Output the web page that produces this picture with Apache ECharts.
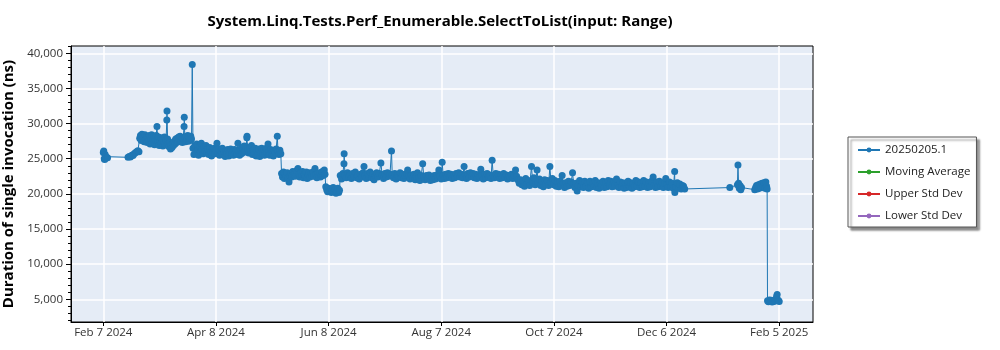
<!DOCTYPE html>
<html>
<head>
<meta charset="utf-8">
<script src="https://cdn.jsdelivr.net/npm/echarts@6/dist/echarts.min.js"></script>
<style>
  html, body { margin: 0; padding: 0; background: #ffffff; }
  #chart { width: 1000px; height: 350px; }
</style>
</head>
<body>
<div id="chart"></div>
<script>
// Benchmark runs: [days since Feb 7 2024, duration of a single invocation in ns]
const febRuns = [
  [0, 25900], [0.25, 26100], [0.5, 25000], [0.75, 24900], [1, 25600], [1.25, 25300], [1.5, 25100], [2.3, 25150],
  [13.3, 25200], [14, 25300], [14.6, 25250], [15.3, 25500], [16, 25450], [16.6, 25700], [17.3, 25850], [17.9, 26000], [18.6, 26150], [19.2, 26000]
];
const marchRuns = [
  [19.6, 27900], [20, 28300], [20.4, 27600], [20.8, 28500], [21.2, 27800], [21.6, 28200], [22, 27400], [22.4, 28400],
  [22.8, 27700], [23.2, 28100], [23.6, 27300], [24, 28000], [24.4, 27500], [24.8, 28300], [25.2, 27100], [25.6, 27900],
  [26, 28400], [26.4, 27200], [26.8, 27800], [27.2, 28200], [27.6, 27000], [28, 27700], [28.5, 28300], [28.9, 29600],
  [29.3, 27600], [29.7, 28100], [30.1, 26900], [30.5, 27500], [30.9, 28000], [31.3, 27200], [31.7, 27800], [32.1, 26800],
  [32.5, 27400], [32.9, 28100], [33.3, 27000], [33.8, 27600], [34.2, 30500], [34.3, 31800], [34.6, 27800], [35, 27100],
  [35.4, 26700], [35.8, 27300], [36.2, 26400], [36.6, 27000], [37, 26600], [37.4, 27200], [37.8, 26900], [38.2, 27500],
  [38.6, 27100], [39, 27800], [39.4, 27300], [39.8, 27900], [40.2, 27400], [40.6, 28100], [41, 27600], [41.4, 28200],
  [41.8, 27500], [42.2, 28000], [42.6, 27300], [43, 27900], [43.5, 29600], [43.6, 30900], [43.9, 28000], [44.3, 27400],
  [44.7, 28200], [45.1, 27700], [45.5, 28300], [45.9, 27500], [46.3, 28100], [46.7, 27600], [47.1, 28200], [47.5, 27800],
  [47.9, 38400]
];
const aprilRuns = [
  [48.3, 26500], [48.8, 25600], [49.3, 26900], [49.8, 25800], [50.3, 27100], [50.8, 26200], [51.3, 25500], [51.8, 26800],
  [52.3, 26000], [52.8, 27200], [53.3, 26300], [53.8, 25700], [54.3, 26700], [54.8, 26100], [55.3, 26900], [55.8, 25800],
  [56.3, 26400], [56.8, 25600], [57.3, 26600], [57.8, 26000], [58.3, 25400], [58.8, 26300], [59.3, 25900], [59.8, 26500],
  [60.3, 25700], [60.8, 26200], [61.2, 27200], [61.6, 25800], [62.1, 26400], [62.6, 25500], [63.1, 26100], [63.6, 25800],
  [64.1, 26500], [64.6, 25600], [65.1, 26000], [65.6, 25300], [66.1, 26200], [66.6, 25700], [67.1, 26300], [67.6, 25400],
  [68.1, 25900], [68.6, 26400], [69.1, 25600], [69.6, 26100], [70.1, 25500], [70.6, 26300], [71.1, 25800], [71.6, 26200],
  [72.1, 25600], [72.5, 27200], [72.9, 26000], [73.4, 25500], [73.9, 26300], [74.4, 25700], [74.9, 26600], [75.4, 25900],
  [75.9, 26800], [76.4, 26100], [76.9, 26700], [77.3, 28000], [77.4, 28200], [77.8, 26400], [78.3, 25800], [78.8, 26600],
  [79.3, 26000], [79.8, 26900], [80.3, 25600], [80.8, 26300], [81.3, 25700], [81.8, 26500], [82.3, 25400], [82.8, 26100],
  [83.3, 25600], [83.8, 26400], [84.3, 25300], [84.8, 25900], [85.3, 26500], [85.8, 25700], [86.3, 26200], [86.8, 25500],
  [87.3, 26000], [87.8, 26500], [88.3, 25800], [88.7, 27100], [89.1, 26000], [89.6, 25500], [90.1, 26300], [90.6, 25700],
  [91.1, 26100], [91.6, 25400], [92.1, 26200], [92.6, 25800], [93.1, 26400], [93.7, 28200], [94.1, 26000], [94.6, 25600],
  [95.1, 26200], [95.6, 25700]
];
const mayRuns = [
  [96, 22900], [96.5, 22400], [97, 23100], [97.5, 22200], [98, 22800], [98.5, 22500], [99, 23000], [99.5, 22300],
  [100, 21700], [100.5, 22600], [101, 22900], [101.5, 22400], [102, 23200], [102.5, 22700], [103, 23000], [103.5, 22500],
  [104, 23300], [104.8, 23600], [105.3, 22800], [105.8, 22400], [106.3, 23000], [106.8, 22600], [107.3, 23200], [107.8, 22300],
  [108.3, 22800], [108.8, 22500], [109.3, 23100], [109.8, 22200], [110.3, 22700], [110.8, 23000], [111.3, 22400], [111.8, 22900],
  [112.3, 22600], [112.8, 23100], [113.3, 22500], [114, 23600], [114.5, 22800], [115, 22300], [115.5, 22900], [116, 22500],
  [116.5, 23000], [117, 22400], [117.5, 22700], [118, 23200], [118.5, 22600], [119, 23400], [119.4, 22800]
];
const juneRuns = [
  [119.8, 21000], [120.3, 20600], [120.8, 20300], [121.3, 20800], [121.8, 20400], [122.3, 20700], [122.8, 20200], [123.3, 20500],
  [123.8, 20900], [124.3, 20300], [124.8, 20600], [125.3, 20100], [125.8, 20400], [126.3, 20800], [126.8, 20200], [127.2, 20500]
];
const summerRuns = [
  [127.6, 22600], [128.3, 22100], [129, 22900], [129.6, 24300], [129.7, 25700], [130.1, 22700], [130.8, 22300], [131.5, 23000],
  [132.2, 22400], [132.9, 22800], [133.6, 22200], [134.3, 22900], [135, 22500], [135.7, 23100], [136.4, 22300], [137.1, 22700],
  [137.8, 22100], [138.5, 22800], [139.2, 22400], [139.9, 23000], [140.4, 23900], [140.9, 22600], [141.6, 22200], [142.3, 22900],
  [143, 22500], [143.7, 23100], [144.4, 22300], [145.1, 22800], [145.8, 22000], [146.5, 22600], [147.2, 23000], [147.9, 22400],
  [148.6, 22900], [149.5, 24400], [150.2, 22600], [150.9, 22200], [151.6, 22900], [152.3, 22400], [153, 23000], [153.7, 22500],
  [154.4, 22800], [155.2, 26100], [155.6, 22700], [156.3, 22300], [157, 22900], [157.7, 22100], [158.4, 22700], [159.1, 22400],
  [159.8, 23000], [160.5, 22300], [161.2, 22800], [161.9, 22200], [162.6, 22600], [163.3, 22900], [163.9, 23400], [164.5, 22500],
  [165.2, 22100], [165.9, 22700], [166.6, 22300], [167.3, 22800], [168, 22000], [168.6, 22500], [169.2, 23000], [169.8, 22300],
  [170.5, 21900], [171.2, 22600], [172, 24300], [172.6, 22400], [173.3, 22000], [174, 22600], [174.7, 22200], [175.4, 22700],
  [176.1, 21900], [176.8, 22400], [177.5, 22000], [178.2, 22600], [178.9, 22100], [179.6, 22700], [180.2, 22300], [180.7, 23400],
  [181.3, 22500], [182, 22100], [182.5, 24500], [183, 22700], [183.7, 22200], [184.4, 22800], [185.1, 22300], [185.8, 22900],
  [186.5, 22400], [187.2, 22800], [187.9, 22200], [188.6, 22700], [189.3, 22300], [190, 22900], [190.7, 22500], [191.4, 23000],
  [192.1, 22400], [192.8, 22800], [193.5, 22300], [194.3, 23900], [194.9, 22700], [195.6, 22200], [196.3, 22900], [197, 22400],
  [197.7, 23000], [198.4, 22500], [199.1, 22900], [199.8, 22300], [200.5, 22800], [201.2, 22200], [201.9, 22700], [202.6, 22400],
  [203.3, 23500], [203.9, 22600], [204.6, 22100], [205.3, 22800], [206, 22300], [206.7, 22900], [207.4, 22400], [208.1, 22700],
  [208.8, 22200], [209.4, 24800], [210, 22600], [210.7, 22300], [211.4, 22900], [212.1, 22400], [212.8, 22800], [213.5, 22200],
  [214.2, 22700], [214.9, 22300], [215.6, 22900], [216.3, 22400], [217, 22700], [217.7, 22100], [218.4, 22600], [219.1, 22300],
  [219.8, 22800], [220.5, 22200], [221.2, 22600], [222, 23400], [222.6, 22500], [223.2, 22000]
];
const autumnRuns = [
  [224, 21500], [224.7, 22000], [225.4, 21300], [226.1, 21800], [226.8, 21100], [227.5, 22200], [228.2, 21400], [228.9, 21900],
  [229.6, 21200], [230.6, 23900], [231.2, 21700], [231.9, 22300], [232.6, 21300], [233.6, 23400], [234.2, 21600], [234.9, 22100],
  [235.6, 21200], [236.3, 21800], [237, 21000], [237.7, 22000], [238.4, 21400], [239.1, 21900], [239.8, 21200], [240.5, 23900],
  [241.1, 21600], [241.8, 22200], [242.5, 21300], [243.2, 21900], [243.9, 21100], [244.6, 21700], [245.3, 21000], [246, 21800],
  [246.6, 21300], [247.1, 22600], [247.7, 21500], [248.4, 20900], [249.1, 21600], [249.8, 21100], [250.5, 21800], [251.2, 21200],
  [252, 21700], [252.7, 23000], [253.3, 21400], [254, 20900], [254.6, 21500], [255.2, 20400], [255.8, 21200], [256.5, 21900],
  [257.2, 21000], [257.9, 21700], [258.6, 20900], [259.3, 21800], [260, 21100], [260.7, 21600], [261.4, 20800], [262.1, 21800],
  [262.8, 21000], [263.5, 21500], [264.2, 21100], [264.9, 21900], [265.6, 20900], [266.3, 21600], [267, 20800], [267.7, 21500],
  [268.4, 21100], [269.1, 21800], [269.8, 20900], [270.5, 21600], [271.2, 21000], [271.9, 21900], [272.6, 21200], [273.3, 21800],
  [274, 21000], [274.7, 21700], [275.4, 21100], [276.1, 21800], [276.4, 22100], [277, 21200], [277.7, 20900], [278.4, 21700],
  [279.1, 21000], [279.8, 21600], [280.5, 20800], [281.2, 21500], [281.9, 20900], [282.6, 21800], [283.3, 21000], [284, 21600],
  [284.7, 20800], [285.4, 21500], [286.1, 21000], [286.8, 21900], [287.5, 21100], [288.2, 21700], [288.9, 20900], [289.6, 21600],
  [290.3, 21000], [291, 21900], [291.7, 21100], [292.4, 21700], [293.1, 20900], [293.8, 21600], [294.5, 21000], [295.2, 21800],
  [296.1, 22400], [296.7, 21200], [297.4, 20900], [298.1, 21700], [298.8, 21000], [299.5, 21800], [300.2, 21100], [300.9, 21600],
  [301.6, 20900], [302.3, 21500], [302.9, 22200], [303.5, 21300], [304.2, 20900], [304.9, 21700], [305.6, 21000], [306.3, 21500],
  [307, 20800], [307.7, 23200], [307.8, 20200], [308.4, 21000], [309.1, 21600], [309.8, 20800], [310.5, 21400], [311.2, 20700],
  [311.9, 21200], [312.5, 21100], [313.1, 20700]
];
const winterRuns = [
  [337.4, 20900], [341.5, 21300], [341.8, 24100], [342.1, 21500], [342.5, 20800], [342.9, 21200], [343.3, 20600], [343.7, 20900],
  [350.8, 20600], [351.3, 20900], [351.8, 21200], [352.3, 20700], [352.8, 21300], [353.3, 20800], [353.8, 21400], [354.3, 20900],
  [354.8, 21500], [355.3, 21000], [355.8, 21600], [356.3, 20800], [356.8, 21700], [357.2, 21100], [357.5, 20700],
  [357.7, 4800], [358.2, 4650], [358.7, 4900], [359.2, 4700], [359.7, 4850], [360.2, 4600], [360.7, 4800], [361.2, 4700],
  [361.7, 4900], [362.2, 5000], [362.6, 5400], [362.9, 5700], [363.3, 4900], [363.7, 4800], [364, 4700]
];

// X axis tick labels, evenly spread from Feb 7 2024 to Feb 5 2025 (364 days)
const xTickLabels = ['Feb 7 2024', 'Apr 8 2024', 'Jun 8 2024', 'Aug 7 2024', 'Oct 7 2024', 'Dec 6 2024', 'Feb 5 2025'];
const xTickSpanDays = 364;
// Y axis major ticks (labelled) and minor ticks
const yMajorTicks = [5000, 10000, 15000, 20000, 25000, 30000, 35000, 40000];
const yMinorTicks = [2000, 3000, 4000, 6000, 7000, 8000, 9000, 11000, 12000, 13000, 14000, 16000, 17000, 18000, 19000,
  21000, 22000, 23000, 24000, 26000, 27000, 28000, 29000, 31000, 32000, 33000, 34000, 36000, 37000, 38000, 39000, 41000];

const seriesNames = ['20250205.1', 'Moving Average', 'Upper Std Dev', 'Lower Std Dev'];
const seriesColors = ['#1f77b4', '#2ca02c', '#d62728', '#9467bd'];

const runs = [].concat(febRuns, marchRuns, aprilRuns, mayRuns, juneRuns, summerRuns, autumnRuns, winterRuns);
const xTickDays = xTickLabels.map((_, i) => i * xTickSpanDays / (xTickLabels.length - 1));

const FONT = '"Segoe UI", "Open Sans", "Noto Sans", sans-serif';

const chart = echarts.init(document.getElementById('chart'), null, { renderer: 'canvas' });

const lineSeries = seriesNames.map((name, i) => ({
  name: name,
  type: 'line',
  xAxisIndex: 0,
  yAxisIndex: 0,
  data: i === 0 ? runs : [],
  color: seriesColors[i],
  symbol: 'circle',
  symbolSize: 7,
  showAllSymbol: true,
  sampling: null,
  lineStyle: { width: 1, color: seriesColors[i] },
  itemStyle: { color: seriesColors[i] },
  emphasis: { disabled: true },
  z: 3
}));

chart.setOption({
  animation: false,
  backgroundColor: '#ffffff',
  title: {
    text: 'System.Linq.Tests.Perf_Enumerable.SelectToList(input: Range)',
    left: 435,
    textAlign: 'center',
    top: 9,
    textStyle: { fontFamily: FONT, fontSize: 15, fontWeight: 'bold', color: '#000000' }
  },
  legend: {
    orient: 'vertical',
    left: 848,
    top: 137,
    data: seriesNames,
    itemWidth: 22,
    itemHeight: 6,
    itemGap: 10,
    padding: [7, 6, 5, 9],
    backgroundColor: '#ffffff',
    borderColor: '#555555',
    borderWidth: 1,
    shadowBlur: 2,
    shadowColor: 'rgba(0,0,0,0.45)',
    shadowOffsetX: 3,
    shadowOffsetY: 3,
    textStyle: { fontFamily: FONT, fontSize: 11.5, color: '#222222', lineHeight: 12 },
    selectedMode: false
  },
  grid: {
    left: 71,
    right: 187,
    top: 46,
    bottom: 28,
    outerBoundsMode: 'none',
    containLabel: false,
    show: true,
    backgroundColor: '#e5ecf6',
    borderColor: '#000000',
    borderWidth: 1
  },
  xAxis: {
    type: 'value',
    min: -17.4,
    max: 382.2,
    axisLine: { show: true, onZero: false, lineStyle: { color: '#000000', width: 1 } },
    axisTick: { show: true, customValues: xTickDays, length: 4, lineStyle: { color: '#000000' } },
    axisLabel: {
      customValues: xTickDays,
      margin: 5,
      fontFamily: FONT,
      fontSize: 11.5,
      color: '#333333',
      formatter: function (value) {
        let best = 0;
        xTickDays.forEach((d, i) => { if (Math.abs(d - value) < Math.abs(xTickDays[best] - value)) best = i; });
        return xTickLabels[best];
      }
    },
    splitLine: { show: true, lineStyle: { color: '#ffffff', width: 1.5 } }
  },
  yAxis: [
    {
      type: 'value',
      min: 1770,
      max: 41040,
      name: 'Duration of single invocation (ns)',
      nameLocation: 'middle',
      nameGap: 45,
      nameTextStyle: { fontFamily: FONT, fontSize: 15, fontWeight: 'bold', color: '#000000' },
      axisLine: { show: true, onZero: false, lineStyle: { color: '#000000', width: 1 } },
      axisTick: { show: true, customValues: yMajorTicks, length: 5, lineStyle: { color: '#000000' } },
      axisLabel: {
        customValues: yMajorTicks,
        margin: 8,
        fontFamily: FONT,
        fontSize: 11.5,
        color: '#333333',
        formatter: v => v.toLocaleString('en-US')
      },
      splitLine: { show: true, lineStyle: { color: '#ffffff', width: 1.5 } }
    },
    {
      type: 'value',
      min: 1770,
      max: 41040,
      position: 'left',
      axisLine: { show: false, onZero: false },
      axisTick: { show: true, customValues: yMinorTicks, length: 3, lineStyle: { color: '#000000' } },
      axisLabel: { show: false },
      splitLine: { show: false }
    }
  ],
  series: lineSeries
});
</script>
</body>
</html>
